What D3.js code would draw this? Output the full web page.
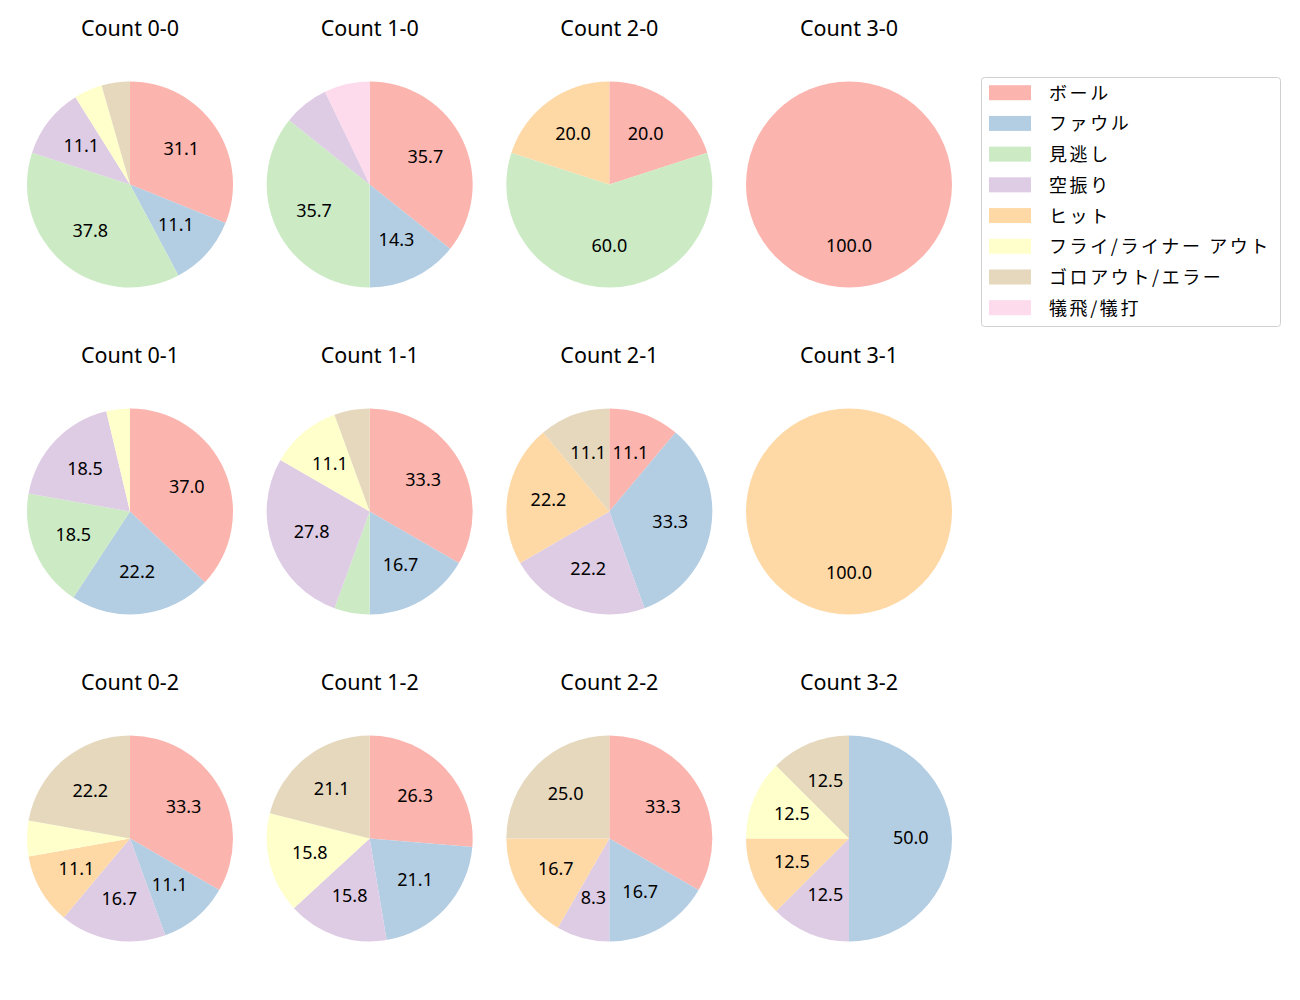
<!DOCTYPE html>
<html>
<head>
<meta charset="utf-8">
<script src="https://cdn.jsdelivr.net/npm/d3@7"></script>
<style>
  body { margin: 0; background: #fff; }
  text { font-family: "Noto Sans", "Noto Sans CJK JP", sans-serif; }
  text.legend-label { font-family: "Noto Sans CJK JP", "Noto Sans", sans-serif; }
</style>
</head>
<body>
<svg id="chart"></svg>
<script>
// categories (legend order)
const categories = ["ボール", "ファウル", "見逃し", "空振り", "ヒット", "フライ/ライナー アウト", "ゴロアウト/エラー", "犠飛/犠打"];
const colors = ["#fbb4ae", "#b3cde3", "#ccebc5", "#decbe4", "#fed9a6", "#ffffcc", "#e5d8bd", "#fddaec"];

// pitch counts per ball-strike count, in category order
const counts = ["0-0", "1-0", "2-0", "3-0", "0-1", "1-1", "2-1", "3-1", "0-2", "1-2", "2-2", "3-2"];
const count00 = [14, 5, 17, 5, 0, 2, 2, 0];
const count10 = [5, 2, 5, 1, 0, 0, 0, 1];
const count20 = [1, 0, 3, 0, 1, 0, 0, 0];
const count30 = [1, 0, 0, 0, 0, 0, 0, 0];
const count01 = [10, 6, 5, 5, 0, 1, 0, 0];
const count11 = [6, 3, 1, 5, 0, 2, 1, 0];
const count21 = [1, 3, 0, 2, 2, 0, 1, 0];
const count31 = [0, 0, 0, 0, 1, 0, 0, 0];
const count02 = [6, 2, 0, 3, 2, 1, 4, 0];
const count12 = [5, 4, 0, 3, 0, 3, 4, 0];
const count22 = [4, 2, 0, 1, 2, 0, 3, 0];
const count32 = [0, 4, 0, 1, 1, 1, 1, 0];
const seriesList = [count00, count10, count20, count30, count01, count11, count21, count31, count02, count12, count22, count32];

const width = 1300;
const height = 1000;
const radius = 103;
const labelMin = 8; // percentages below this get no label

const svg = d3.select("#chart")
    .attr("width", width)
    .attr("height", height);

const colX = d3.scalePoint().domain([0, 1, 2, 3]).range([130, 849]);
const rowY = d3.scalePoint().domain([0, 1, 2]).range([184.5, 838.5]);
const color = d3.scaleOrdinal().domain(categories).range(colors);

const pie = d3.pie().sort(null).value(d => d.v);
const arc = d3.arc().innerRadius(0).outerRadius(radius);
const labelArc = d3.arc().innerRadius(radius * 0.6).outerRadius(radius * 0.6);

seriesList.forEach((series, i) => {
    const col = i % 4;
    const row = Math.floor(i / 4);
    const g = svg.append("g")
        .attr("transform", `translate(${colX(col)},${rowY(row)})`);

    const total = d3.sum(series);
    const data = series.map((v, k) => ({ cat: categories[k], v: v }));
    const arcs = pie(data);

    g.selectAll("path")
        .data(arcs)
        .enter()
        .append("path")
        .attr("d", arc)
        .attr("fill", d => color(d.data.cat));

    g.selectAll("text.pct")
        .data(arcs.filter(d => d.data.v / total * 100 >= labelMin))
        .enter()
        .append("text")
        .attr("class", "pct")
        .attr("transform", d => `translate(${labelArc.centroid(d)})`)
        .attr("dy", -1.5)
        .attr("text-anchor", "middle")
        .attr("dominant-baseline", "central")
        .attr("font-size", 18)
        .attr("fill", "#000")
        .text(d => (d.data.v / total * 100).toFixed(1));

    g.append("text")
        .attr("x", 0)
        .attr("y", -157)
        .attr("text-anchor", "middle")
        .attr("dominant-baseline", "central")
        .attr("font-size", 21.5)
        .attr("fill", "#000")
        .text("Count " + counts[i]);
});

// legend
const legend = svg.append("g").attr("transform", "translate(981,77)");
legend.append("rect")
    .attr("x", 0.5)
    .attr("y", 0.5)
    .attr("width", 299)
    .attr("height", 249)
    .attr("rx", 3)
    .attr("fill", "#fff")
    .attr("stroke", "#d0d0d0");

const legendY = d3.scaleLinear().domain([0, 7]).range([15.7, 230.7]);
const items = legend.selectAll("g.item")
    .data(categories)
    .enter()
    .append("g")
    .attr("class", "item")
    .attr("transform", (d, i) => `translate(0,${legendY(i)})`);

items.append("rect")
    .attr("x", 8)
    .attr("y", -7.5)
    .attr("width", 42)
    .attr("height", 15)
    .attr("fill", d => color(d));

items.append("text")
    .attr("class", "legend-label")
    .attr("x", 68)
    .attr("y", -1)
    .attr("dominant-baseline", "central")
    .attr("font-size", 18)
    .attr("letter-spacing", 2.6)
    .attr("fill", "#000")
    .text(d => d);
</script>
</body>
</html>
